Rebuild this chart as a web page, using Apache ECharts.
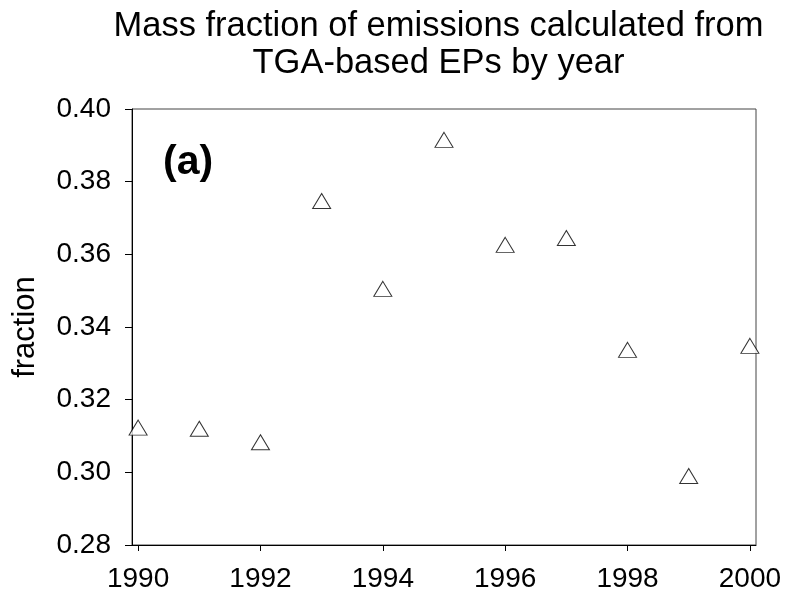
<!DOCTYPE html>
<html>
<head>
<meta charset="utf-8">
<script src="https://cdn.jsdelivr.net/npm/echarts@6/dist/echarts.min.js"></script>
<style>
  html, body { margin: 0; padding: 0; background: #fff; }
  #chart { width: 786px; height: 595px; }
</style>
</head>
<body>
<div id="chart"></div>
<script>
const years = [1990, 1991, 1992, 1993, 1994, 1995, 1996, 1997, 1998, 1999, 2000]
const fractions = [0.3123, 0.3120, 0.3083, 0.3747, 0.3505, 0.3915, 0.3626, 0.3645, 0.3337, 0.2990, 0.3348]
const xTicks = [1990, 1992, 1994, 1996, 1998, 2000]

const font = '"Liberation Sans", Arial, sans-serif'

const chart = echarts.init(document.getElementById('chart'))

chart.setOption({
  animation: false,
  backgroundColor: '#fff',
  textStyle: { fontFamily: font, color: '#000' },
  grid: {
    left: 132, top: 109, width: 624, height: 436,
    show: true, borderColor: '#444', borderWidth: 1, backgroundColor: 'transparent'
  },
  graphic: [
    {
      type: 'text', x: 438.5, y: 8,
      style: {
        text: 'Mass fraction of emissions calculated from\nTGA-based EPs by year',
        font: '34.5px ' + font, fill: '#000', align: 'center', verticalAlign: 'top', lineHeight: 37
      }
    },
    {
      type: 'text', x: 163, y: 142,
      style: { text: '(a)', font: 'bold 41px ' + font, fill: '#000', align: 'left', verticalAlign: 'top' }
    }
  ],
  xAxis: {
    type: 'value',
    min: 1989.9, max: 2000.1,
    splitLine: { show: false },
    axisLine: { show: true, lineStyle: { color: '#000', width: 1 } },
    axisTick: { show: true, length: 6, customValues: xTicks, lineStyle: { color: '#000' } },
    axisLabel: {
      customValues: xTicks, fontSize: 28, color: '#000', margin: 20, fontFamily: font,
      formatter: v => String(v)
    }
  },
  yAxis: {
    type: 'value',
    min: 0.28, max: 0.40, interval: 0.02,
    name: 'fraction',
    nameLocation: 'middle',
    nameRotate: 90,
    nameGap: 91,
    nameTextStyle: { fontSize: 31, color: '#000', fontFamily: font },
    splitLine: { show: false },
    axisLine: { show: true, lineStyle: { color: '#000', width: 1 } },
    axisTick: { show: true, length: 7, lineStyle: { color: '#000' } },
    axisLabel: {
      fontSize: 28, color: '#000', margin: 21, fontFamily: font,
      formatter: v => v.toFixed(2)
    }
  },
  series: [{
    type: 'scatter',
    data: years.map((y, i) => [y, fractions[i]]),
    symbol: 'triangle',
    symbolSize: [18, 15],
    itemStyle: { color: '#fff', borderColor: '#000', borderWidth: 1 }
  }]
})
</script>
</body>
</html>
